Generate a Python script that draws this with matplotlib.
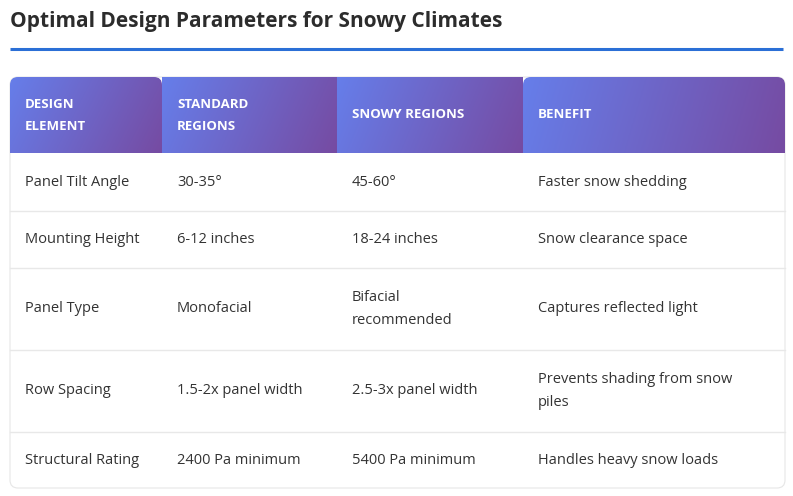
import matplotlib
matplotlib.use("Agg")
import matplotlib.pyplot as plt
import numpy as np
from matplotlib.patches import Rectangle, FancyBboxPatch

title = "Optimal Design Parameters for Snowy Climates"
headers = ["DESIGN\nELEMENT", "STANDARD\nREGIONS", "SNOWY REGIONS", "BENEFIT"]
col1 = ["Panel Tilt Angle", "Mounting Height", "Panel Type", "Row Spacing", "Structural Rating"]
col2 = ["30-35°", "6-12 inches", "Monofacial", "1.5-2x panel width", "2400 Pa minimum"]
col3 = ["45-60°", "18-24 inches", "Bifacial\nrecommended", "2.5-3x panel width", "5400 Pa minimum"]
col4 = ["Faster snow shedding", "Snow clearance space", "Captures reflected light",
        "Prevents shading from snow\npiles", "Handles heavy snow loads"]

plt.rcParams['font.family'] = ['Open Sans', 'DejaVu Sans']
fig = plt.figure(figsize=(7.93, 4.96), dpi=100)
ax = fig.add_axes([0, 0, 1, 1])
ax.set_xlim(0, 793); ax.set_ylim(496, 0); ax.axis('off')

ax.text(10, 22, title, fontsize=15, fontweight='bold', color='#2c2c2c', va='center', ha='left')
ax.plot([10, 783], [48.5, 48.5], color='#2b6fd6', lw=2.2, solid_capstyle='butt')

xs = [10, 162, 337, 523, 785]
ys = [77, 153, 211, 268, 350, 432, 488]

# card background + shadow
ax.add_patch(FancyBboxPatch((10, 77), 775, 411, boxstyle="round,pad=0,rounding_size=8",
                            fc='white', ec='#e6e6e6', lw=0.8, zorder=0))

c0 = np.array([0x66, 0x7e, 0xea]) / 255
c1 = np.array([0x76, 0x4b, 0xa2]) / 255
for i in range(4):
    x0, x1 = xs[i], xs[i + 1]
    w, h = x1 - x0, ys[1] - ys[0]
    gx, gy = np.meshgrid(np.linspace(0, 1, 100), np.linspace(0, 1, 50))
    t = (gx * w * w + gy * h * h) / (w * w + h * h)
    img = c0[None, None, :] * (1 - t[..., None]) + c1[None, None, :] * t[..., None]
    im = ax.imshow(img, extent=[x0, x1, ys[1], ys[0]], aspect='auto', zorder=1)
    if i in (0, 3):
        clip = FancyBboxPatch((x0, ys[0]), w, h + 20, boxstyle="round,pad=0,rounding_size=8",
                              transform=ax.transData, fc='none', ec='none')
        ax.add_patch(clip)
        im.set_clip_path(clip)
    ax.text(x0 + 15, (ys[0] + ys[1]) / 2, headers[i], color='white', fontsize=9.5,
            fontweight='bold', va='center', ha='left', linespacing=1.9, zorder=2)

cols = [col1, col2, col3, col4]
for r in range(5):
    yc = (ys[r + 1] + ys[r + 2]) / 2
    for c in range(4):
        ax.text(xs[c] + 15, yc, cols[c][r], color='#333333', fontsize=10.5,
                va='center', ha='left', linespacing=1.75, zorder=2)
    if r < 4:
        ax.plot([10, 785], [ys[r + 2], ys[r + 2]], color='#e8e8e8', lw=1, zorder=2)

fig.savefig("out.png", dpi=100)
